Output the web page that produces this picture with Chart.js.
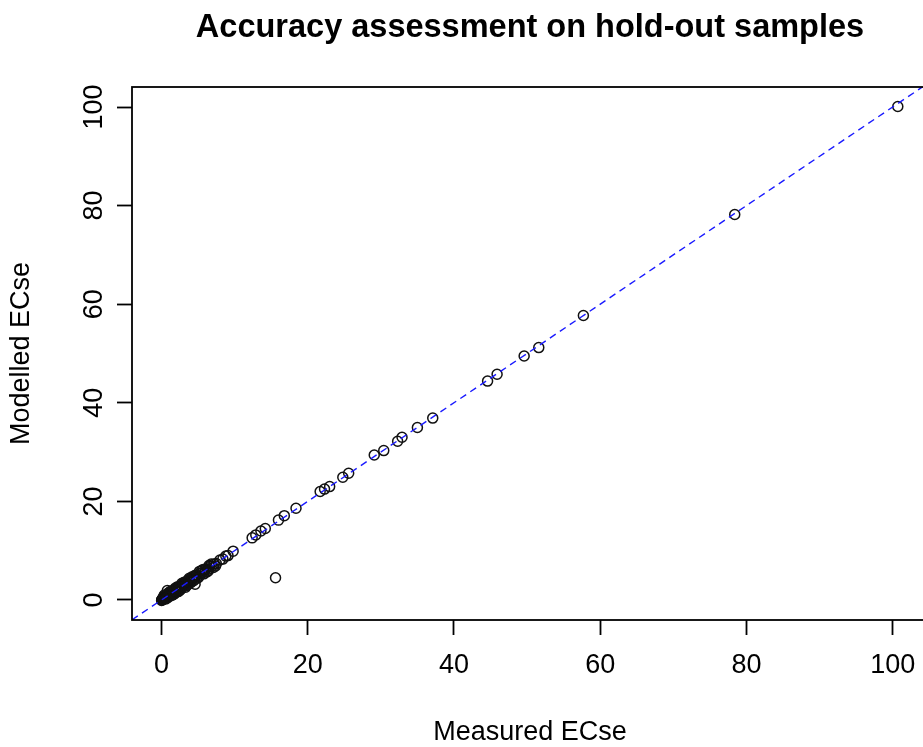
<!DOCTYPE html>
<html lang="en">
<head>
  <meta charset="UTF-8" />
  <title>Accuracy assessment on hold-out samples</title>
  <style>
    html, body {
      margin: 0;
      padding: 0;
      background: #fff;
      overflow: hidden;
    }
    canvas {
      display: block;
    }
  </style>
</head>
<body>
  <canvas id="grafica" width="940" height="747"></canvas>

  <script src="https://cdn.jsdelivr.net/npm/chart.js"></script>
  <script>
    // hold-out samples: measured vs modelled ECse
    const measured = [
      0.02, 0.05, 0.08, 0.1, 0.12, 0.15, 0.2, 0.25, 0.3, 0.35, 0.4, 0.5, 0.55, 0.8, 0.65,
      0.75, 0.9, 1.0, 1.1, 1.2, 1.3, 1.45, 1.55, 1.7, 1.85, 2.0, 2.1, 2.25, 2.4, 2.55,
      2.7, 2.85, 3.0, 3.15, 3.3, 3.5, 3.7, 3.9, 4.1, 4.3, 4.5, 4.6, 4.8, 5.0, 5.3,
      5.6, 6.0, 6.3, 6.6, 6.9, 7.2, 7.5, 8.0, 8.4, 8.8, 9.1, 9.8,
      0.6, 1.0, 1.4, 1.9, 2.3, 2.8, 3.3, 3.8, 4.4, 5.2, 5.8, 6.5, 7.1,
      0.3, 0.7, 1.2, 1.6, 2.1, 2.5, 3.0, 3.4, 3.6, 4.0, 4.6, 5.1, 5.5, 6.2, 6.8, 7.4,
      0.4, 0.9, 1.3, 1.8, 2.2, 2.6, 3.1, 3.7, 4.2, 4.9, 5.7, 6.4,
      12.4, 12.9, 13.6, 14.2, 15.6, 16.0, 16.8, 18.4, 21.7, 22.3, 23.0, 24.8, 25.6,
      29.1, 30.4, 32.3, 32.9, 35.0, 37.1, 44.6, 45.9, 49.6, 51.6, 57.7, 78.4, 100.7
    ];
    const modelled = [
      -0.1, 0.05, 0.1, 0.0, 0.2, 0.1, 0.3, 0.2, 0.45, 0.3, 0.6, 0.4, 0.7, 1.9, 0.9,
      0.7, 1.1, 0.8, 1.3, 1.0, 1.5, 1.3, 1.8, 1.6, 2.0, 1.8, 2.3, 2.1, 2.6, 2.4,
      2.9, 2.7, 3.2, 3.0, 3.5, 3.3, 3.9, 3.7, 4.3, 4.2, 4.7, 3.2, 5.0, 4.9, 5.4,
      5.5, 6.1, 6.2, 6.8, 6.8, 7.3, 7.4, 8.1, 8.3, 8.9, 9.0, 9.9,
      0.2, 1.5, 0.9, 2.4, 1.7, 3.4, 2.6, 4.4, 3.9, 5.8, 5.3, 7.0, 6.6,
      0.7, 0.4, 1.6, 1.1, 2.5, 2.0, 3.4, 2.9, 4.0, 3.5, 5.0, 4.6, 6.0, 5.7, 7.3, 6.9,
      1.0, 0.5, 1.8, 1.3, 2.7, 2.1, 3.6, 3.2, 4.7, 4.4, 6.2, 5.9,
      12.6, 13.2, 14.0, 14.5, 4.5, 16.2, 17.1, 18.6, 22.0, 22.5, 23.0, 24.9, 25.7,
      29.4, 30.3, 32.2, 33.0, 35.0, 36.9, 44.4, 45.8, 49.5, 51.2, 57.7, 78.2, 100.1
    ];

    const xLimits = [-4.03, 104.83];
    const yLimits = [-4.06, 104.06];
    const tickStep = 20;

    const FUENTE = "'Liberation Sans', Arial, sans-serif";

    const puntos = measured.map((x, i) => ({ x, y: modelled[i] }));
    // 1:1 reference line across the whole plotting region
    const lineaIdentidad = xLimits.map(v => ({ x: v, y: v }));

    // closed box around the plotting region
    const marco = {
      id: 'marco',
      afterDraw(chart) {
        const { ctx, chartArea: a } = chart;
        ctx.save();
        ctx.strokeStyle = '#000';
        ctx.lineWidth = 1.8;
        ctx.strokeRect(a.left, a.top, a.right - a.left, a.bottom - a.top);
        ctx.restore();
      }
    };

    const ctx = document.getElementById('grafica').getContext('2d');

    new Chart(ctx, {
      type: 'scatter',
      data: {
        datasets: [
          {
            type: 'line',
            data: lineaIdentidad,
            borderColor: '#1a1aff',
            borderWidth: 1.4,
            borderDash: [7, 5],
            pointRadius: 0,
            fill: false
          },
          {
            data: puntos,
            pointStyle: 'circle',
            pointRadius: 5,
            pointBorderWidth: 1.5,
            pointBorderColor: '#111',
            pointBackgroundColor: 'rgba(0,0,0,0)'
          }
        ]
      },
      options: {
        responsive: false,
        animation: false,
        events: [],
        layout: { padding: { top: 0, left: 0, bottom: 0, right: 12 } },
        plugins: {
          legend: { display: false },
          tooltip: { enabled: false },
          title: { display: false }
        },
        scales: {
          x: {
            type: 'linear',
            position: 'bottom',
            min: xLimits[0],
            max: xLimits[1],
            afterFit: s => { s.height = 127; },
            border: { display: false },
            grid: {
              drawOnChartArea: false,
              drawTicks: true,
              tickLength: 15,
              tickWidth: 1.8,
              tickColor: '#000'
            },
            ticks: {
              stepSize: tickStep,
              includeBounds: false,
              maxRotation: 0,
              padding: 14,
              color: '#000',
              font: { family: FUENTE, size: 27 }
            },
            title: {
              display: true,
              text: 'Measured ECse',
              color: '#000',
              padding: { top: 0, bottom: -2 },
              font: { family: FUENTE, size: 27 }
            }
          },
          titulo: {
            type: 'linear',
            position: 'top',
            afterFit: s => { s.height = 87; },
            border: { display: false },
            grid: { display: false },
            ticks: { display: false },
            title: {
              display: true,
              text: 'Accuracy assessment on hold-out samples',
              color: '#000',
              padding: { top: 8.5, bottom: 0 },
              font: { family: FUENTE, size: 32.5, weight: 'bold' }
            }
          },
          y: {
            type: 'linear',
            position: 'left',
            min: yLimits[0],
            max: yLimits[1],
            afterFit: s => { s.width = 132; },
            border: { display: false },
            grid: {
              drawOnChartArea: false,
              drawTicks: true,
              tickLength: 15,
              tickWidth: 1.8,
              tickColor: '#000'
            },
            ticks: {
              stepSize: tickStep,
              includeBounds: false,
              minRotation: 90,
              maxRotation: 90,
              crossAlign: 'center',
              padding: 0,
              color: '#000',
              font: { family: FUENTE, size: 27 }
            },
            title: {
              display: true,
              text: 'Modelled ECse',
              color: '#000',
              padding: { top: 5, bottom: 0 },
              font: { family: FUENTE, size: 27 }
            }
          }
        }
      },
      plugins: [marco]
    });
  </script>
</body>
</html>
